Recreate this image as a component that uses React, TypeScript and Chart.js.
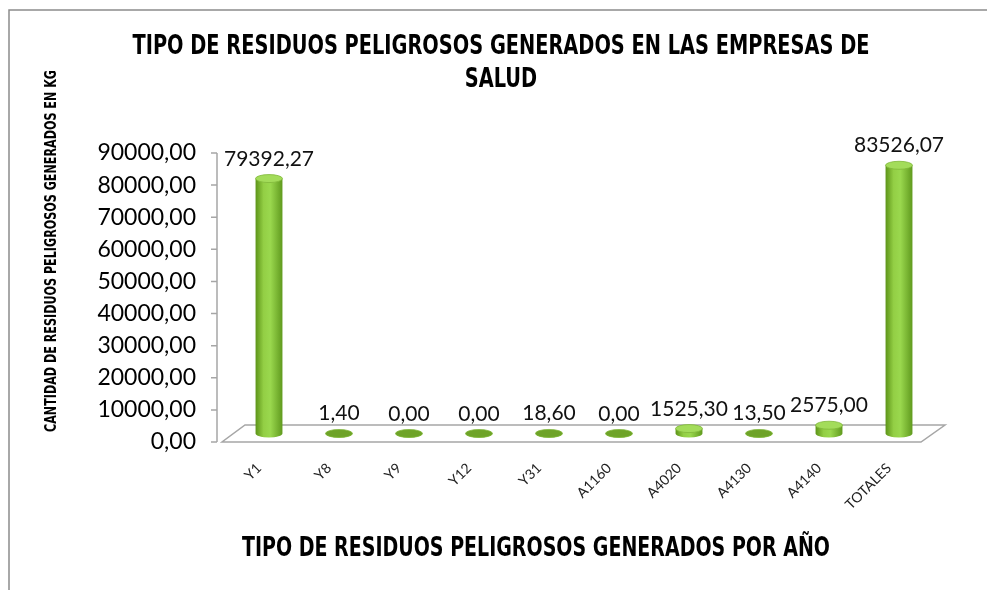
import React, { useEffect, useRef } from "react";
import { Chart, registerables } from "chart.js";

Chart.register(...registerables);

const categories = ["Y1", "Y8", "Y9", "Y12", "Y31", "A1160", "A4020", "A4130", "A4140", "TOTALES"];
const values = [79392.27, 1.4, 0, 0, 18.6, 0, 1525.3, 13.5, 2575.0, 83526.07];
const yTickValues = [0, 10000, 20000, 30000, 40000, 50000, 60000, 70000, 80000, 90000];
const chartTitle = ["TIPO DE RESIDUOS PELIGROSOS GENERADOS EN LAS EMPRESAS DE", "SALUD"];
const xTitle = "TIPO DE RESIDUOS PELIGROSOS GENERADOS POR AÑO";
const yTitle = "CANTIDAD DE RESIDUOS PELIGROSOS GENERADOS EN KG";

const fmt = (v: number) => v.toFixed(2).replace(".", ",");
const NUM_FONT = "Lato, 'Open Sans', sans-serif";
const TITLE_FONT = "'Liberation Sans Narrow', 'DejaVu Sans Condensed', 'Roboto', sans-serif";
const DEPTH = 17;

function condensedText(ctx: any, text: string, cx: number, cy: number, size: number, sx: number) {
  ctx.save();
  ctx.font = `bold ${size}px ${TITLE_FONT}`;
  ctx.textAlign = "center";
  ctx.textBaseline = "middle";
  ctx.translate(cx, cy);
  ctx.scale(sx, 1);
  ctx.fillText(text, 0, 0);
  ctx.restore();
}

const decorPlugin = {
  id: "decor",
  beforeDraw(chart: any) {
    const ctx = chart.ctx;
    ctx.save();
    ctx.fillStyle = "#ffffff";
    ctx.fillRect(0, 0, chart.width, chart.height);
    ctx.strokeStyle = "#8c8c8c";
    ctx.lineWidth = 1.5;
    ctx.beginPath();
    ctx.moveTo(9, chart.height);
    ctx.lineTo(9, 10);
    ctx.lineTo(chart.width, 10);
    ctx.stroke();

    ctx.fillStyle = "#000";
    ctx.font = `bold 26px ${TITLE_FONT}`;
    const w1 = ctx.measureText(chartTitle[0]).width;
    const sTitle = 737 / w1;
    condensedText(ctx, chartTitle[0], 501, 47, 26, sTitle);
    condensedText(ctx, chartTitle[1], 501, 80, 26, sTitle);
    ctx.font = `bold 26px ${TITLE_FONT}`;
    const w2 = ctx.measureText(xTitle).width;
    condensedText(ctx, xTitle, 536, 549, 26, 588 / w2);

    ctx.save();
    ctx.translate(52, 251);
    ctx.rotate(-Math.PI / 2);
    ctx.font = `bold 16px ${TITLE_FONT}`;
    const w3 = ctx.measureText(yTitle).width;
    condensedText(ctx, yTitle, 0, 0, 16, 362 / w3);
    ctx.restore();
    ctx.restore();
  },
  beforeDatasetsDraw(chart: any) {
    const ctx = chart.ctx;
    const { left, right, top, bottom } = chart.chartArea;
    const yScale = chart.scales.y;
    ctx.save();
    ctx.beginPath();
    ctx.moveTo(left - 12, bottom);
    ctx.lineTo(right - 13, bottom);
    ctx.lineTo(right + 11, bottom - DEPTH);
    ctx.lineTo(left + 11, bottom - DEPTH);
    ctx.closePath();
    ctx.fillStyle = "#ffffff";
    ctx.fill();
    ctx.strokeStyle = "#a6a6a6";
    ctx.lineWidth = 1.5;
    ctx.stroke();
    const ax = left - 17;
    ctx.beginPath();
    ctx.moveTo(ax, top);
    ctx.lineTo(ax, bottom);
    yTickValues.forEach((v) => {
      const py = yScale.getPixelForValue(v);
      ctx.moveTo(ax - 6, py);
      ctx.lineTo(ax, py);
    });
    ctx.stroke();
    ctx.restore();
  },
  afterDatasetsDraw(chart: any) {
    const ctx = chart.ctx;
    const meta = chart.getDatasetMeta(0);
    const shift = DEPTH / 2;
    ctx.save();
    meta.data.forEach((bar: any, i: number) => {
      const { x, y, base, width } = bar.getProps(["x", "y", "base", "width"], true);
      const rx = width / 2;
      const ry = 4;
      const topY = y - shift;
      const botY = base - shift;
      const g = ctx.createLinearGradient(x - rx, 0, x + rx, 0);
      g.addColorStop(0, "#5d9418");
      g.addColorStop(0.3, "#93cf45");
      g.addColorStop(0.55, "#9ad84e");
      g.addColorStop(1, "#609a1e");
      ctx.fillStyle = g;
      ctx.beginPath();
      ctx.moveTo(x - rx, topY);
      ctx.lineTo(x - rx, botY);
      ctx.ellipse(x, botY, rx, ry, 0, Math.PI, 0, true);
      ctx.lineTo(x + rx, topY);
      ctx.closePath();
      ctx.fill();
      ctx.beginPath();
      ctx.ellipse(x, topY, rx, ry, 0, 0, Math.PI * 2);
      ctx.fillStyle = botY - topY < 2 ? "#6ea328" : "#a3dc5a";
      ctx.fill();
      ctx.strokeStyle = "#80b83a";
      ctx.lineWidth = 0.8;
      ctx.stroke();

      ctx.fillStyle = "#111";
      ctx.font = `21px ${NUM_FONT}`;
      ctx.textAlign = "center";
      ctx.textBaseline = "alphabetic";
      ctx.fillText(fmt(values[i]), x, topY - 13);
    });
    ctx.restore();
  },
};

export default function App() {
  const ref = useRef<HTMLCanvasElement | null>(null);
  useEffect(() => {
    document.body.style.margin = "0";
    const canvas = ref.current;
    if (!canvas) return;
    const chart = new Chart(canvas, {
      type: "bar",
      data: {
        labels: categories,
        datasets: [
          {
            data: values,
            backgroundColor: "rgba(0,0,0,0)",
            borderWidth: 0,
            categoryPercentage: 0.8,
            barPercentage: 0.48,
          },
        ],
      },
      options: {
        responsive: false,
        animation: false,
        layout: { padding: { top: 153, right: 53, bottom: 0, left: 0 } },
        plugins: {
          legend: { display: false },
          title: { display: false },
          tooltip: { enabled: false },
        },
        scales: {
          x: {
            offset: true,
            grid: { display: false },
            border: { display: false },
            afterFit: (s: any) => {
              s.height = 148;
            },
            ticks: {
              autoSkip: false,
              minRotation: 45,
              maxRotation: 45,
              padding: 10,
              labelOffset: -10,
              color: "#222",
              font: { family: NUM_FONT, size: 14 },
            },
          },
          y: {
            min: 0,
            max: 90000,
            grid: { display: false },
            border: { display: false },
            afterFit: (s: any) => {
              s.width = 234;
            },
            afterBuildTicks: (s: any) => {
              s.ticks = yTickValues.map((v) => ({ value: v }));
            },
            ticks: {
              padding: 30,
              color: "#000",
              font: { family: NUM_FONT, size: 23 },
              callback: (v: any) => fmt(Number(v)),
            },
          },
        },
      },
      plugins: [decorPlugin],
    });
    return () => chart.destroy();
  }, []);
  return <canvas ref={ref} width={987} height={590} style={{ display: "block" }} />;
}
